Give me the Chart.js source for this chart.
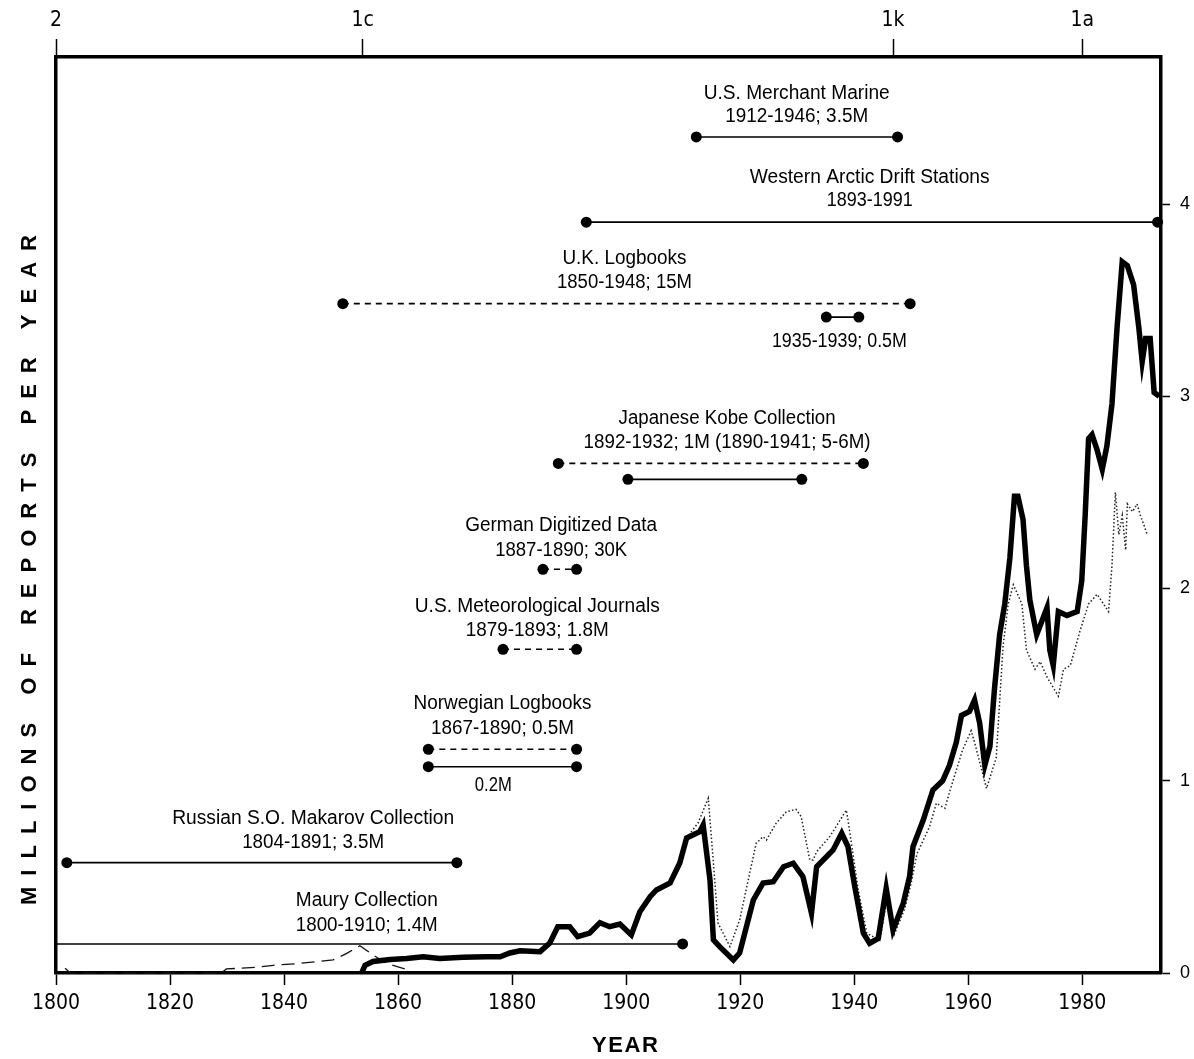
<!DOCTYPE html>
<html>
<head>
<meta charset="utf-8">
<script src="https://cdn.jsdelivr.net/npm/chart.js@4/dist/chart.umd.min.js"></script>
<style>
html,body{margin:0;padding:0;background:#fff;}
#wrap{width:1194px;height:1059px;position:relative;}
</style>
</head>
<body>
<div id="wrap"><canvas id="c"></canvas></div>
<script>
// ---------- DATA ----------
// Total reports per year (thick line), millions
const totalYears = [1853.6,1854.2,1855.6,1858.6,1861.5,1864.4,1867.3,1871.4,1875.5,1877.9,1879.6,1881.4,1884.9,1886.6,1888,1890.1,1891.5,1893.6,1895.4,1897.1,1898.9,1900.9,1902.4,1904.2,1905.3,1907.7,1909.4,1910.6,1912.9,1913.5,1914.7,1915.3,1916.4,1918.8,1919.9,1922.3,1924.0,1925.8,1927.6,1929.3,1931.0,1932.5,1933.4,1936.3,1937.8,1938.9,1940.1,1941.6,1942.7,1944.2,1945.6,1946.8,1948.6,1949.7,1950.3,1952.1,1953.8,1955.5,1956.7,1957.9,1958.8,1960.2,1961.1,1962,1962.9,1963.8,1964.6,1965.5,1966.4,1967.3,1968.1,1968.7,1969.6,1970.2,1970.8,1972,1973.8,1974.3,1974.9,1975.8,1977.3,1979.1,1979.9,1980.5,1981.1,1981.7,1982.6,1983.5,1984.3,1985.2,1986.1,1987,1987.9,1989,1989.9,1990.5,1991.1,1991.9,1992.6,1993.5];
const totalReports = [0,0.04,0.06,0.07,0.076,0.085,0.076,0.082,0.085,0.084,0.104,0.116,0.111,0.156,0.241,0.241,0.189,0.208,0.262,0.241,0.255,0.198,0.319,0.397,0.432,0.468,0.572,0.702,0.735,0.77,0.484,0.172,0.137,0.068,0.104,0.38,0.468,0.475,0.553,0.571,0.501,0.311,0.553,0.64,0.727,0.657,0.449,0.207,0.155,0.18,0.441,0.224,0.363,0.501,0.657,0.796,0.952,1.0,1.08,1.2,1.34,1.36,1.42,1.3,1.08,1.18,1.48,1.76,1.92,2.16,2.48,2.48,2.36,2.12,1.94,1.76,1.9,1.68,1.6,1.88,1.86,1.88,2.04,2.38,2.78,2.8,2.72,2.62,2.74,2.96,3.36,3.70,3.68,3.58,3.36,3.18,3.30,3.30,3.02,3.0];

// Second series (dotted)
const dottedYears = [1910.6,1912.6,1914.4,1915.3,1916.1,1918.2,1919.9,1922.8,1924,1924.6,1926.3,1928.1,1929.8,1930.7,1932.2,1932.8,1933.4,1935.7,1938.6,1938.9,1940.7,1942.2,1943.3,1944.5,1945.8,1947,1948.8,1950,1951,1953.2,1954.4,1955.9,1956.8,1959,1960.5,1961.1,1963.2,1964.9,1966.1,1967,1967.9,1969.4,1970.2,1971.7,1972.6,1973.8,1975.8,1976.7,1977.9,1979.6,1981.1,1982.6,1984.6,1985.2,1985.8,1986.4,1987,1987.6,1987.9,1988.8,1989.6,1990.2,1991.4];
const dottedReports = [0.702,0.78,0.909,0.572,0.26,0.137,0.276,0.675,0.709,0.692,0.779,0.839,0.851,0.813,0.588,0.588,0.631,0.709,0.847,0.796,0.432,0.207,0.189,0.17,0.40,0.2,0.33,0.47,0.62,0.761,0.883,0.857,0.95,1.16,1.26,1.2,0.96,1.12,1.70,1.92,2.02,1.92,1.68,1.58,1.62,1.54,1.44,1.58,1.6,1.78,1.92,1.97,1.88,2.12,2.5,2.28,2.38,2.2,2.44,2.40,2.44,2.38,2.28];

// Early thin dashed series (before 1862)
const earlyYears = [1801.6,1802.5,1829,1829.9,1835.2,1838.1,1842.8,1845.7,1848.6,1851,1853.3,1855.6,1858,1861.5];
const earlyReports = [0.025,0,0,0.021,0.03,0.04,0.05,0.059,0.068,0.102,0.142,0.094,0.05,0.019];

// Data collections shown as ranges
const rangeNames  = ["U.S. Merchant Marine","Western Arctic Drift Stations","U.K. Logbooks","U.K. 1935-1939","Japanese Kobe (1890-1941)","Japanese Kobe (1892-1932)","German Digitized Data","U.S. Meteorological Journals","Norwegian Logbooks 0.5M","Norwegian Logbooks 0.2M","Russian S.O. Makarov Collection","Maury Collection"];
const rangeStart  = [1912.3,1893.0,1850.3,1935.1,1888.1,1900.3,1885.4,1878.4,1865.3,1865.3,1801.9,1800.0];
const rangeEnd    = [1947.6,1993.2,1949.8,1940.8,1941.6,1930.8,1891.3,1891.3,1891.3,1891.3,1870.3,1909.9];
const rangeLevel  = [4.349,3.906,3.482,3.412,2.651,2.568,2.100,1.684,1.164,1.073,0.574,0.151];
const rangeDashed = [false,false,true,false,true,false,true,true,true,false,false,false];
const rangeStartDot = [true,true,true,true,true,true,true,true,true,true,true,false];

// Annotation texts
const noteLines = [
  ["U.S. Merchant Marine","1912-1946; 3.5M"],
  ["Western Arctic Drift Stations","1893-1991"],
  ["U.K. Logbooks","1850-1948; 15M"],
  ["1935-1939; 0.5M"],
  ["Japanese Kobe Collection","1892-1932; 1M (1890-1941; 5-6M)"],
  ["German Digitized Data","1887-1890; 30K"],
  ["U.S. Meteorological Journals","1879-1893; 1.8M"],
  ["Norwegian Logbooks","1867-1890; 0.5M"],
  ["0.2M"],
  ["Russian S.O. Makarov Collection","1804-1891; 3.5M"],
  ["Maury Collection","1800-1910; 1.4M"]
];

// Axis tick labels
const xTickStep = 20;
const yTickStep = 1;
const topTickYears  = [1800, 1853.8, 1946.8, 1980];
const topTickLabels = ["2", "1c", "1k", "1a"];
const yTitle = "MILLIONS OF REPORTS PER YEAR";
const xTitle = "YEAR";

// ---------- LAYOUT (positions in data units, widths in px) ----------
const noteLayout = [
  {x:1929.9, y:[4.577,4.453], w:[186,143]},
  {x:1942.7, y:[4.140,4.020], w:[240,86]},
  {x:1899.7, y:[3.719,3.594], w:[124,135]},
  {x:1937.4, y:[3.284],       w:[135]},
  {x:1917.7, y:[2.885,2.758], w:[217,287]},
  {x:1888.6, y:[2.327,2.200], w:[192,132]},
  {x:1884.4, y:[1.909,1.784], w:[245,143]},
  {x:1878.3, y:[1.403,1.273], w:[178,143]},
  {x:1876.7, y:[0.978],       w:[37]},
  {x:1845.1, y:[0.805,0.680], w:[282,142]},
  {x:1854.5, y:[0.376,0.246], w:[142,142]}
];

const FONT = "'Liberation Sans Narrow','DejaVu Sans Condensed','Liberation Sans',Arial,sans-serif";
const NOTEFONT = "'Liberation Sans',Arial,sans-serif";
const pts = (xs, ys) => xs.map((x, i) => ({x: x, y: ys[i]}));

const datasets = [];
datasets.push({label:"Total", data: pts(totalYears, totalReports), borderColor:"#000", borderWidth:5.5, pointRadius:0, tension:0, clip:false, borderJoinStyle:"miter"});
datasets.push({label:"Second", data: pts(dottedYears, dottedReports), borderColor:"#222", borderWidth:1.5, borderDash:[1.5,2.2], pointRadius:0, tension:0, clip:false});
datasets.push({label:"Early", data: pts(earlyYears, earlyReports), borderColor:"#111", borderWidth:1.3, borderDash:[13,7], pointRadius:0, tension:0, clip:false});
rangeNames.forEach((n, i) => {
  datasets.push({
    label: n,
    data: [{x: rangeStart[i], y: rangeLevel[i]}, {x: rangeEnd[i], y: rangeLevel[i]}],
    borderColor: "#000", borderWidth: 1.6,
    borderDash: rangeDashed[i] ? [6,5] : [],
    pointRadius: [rangeStartDot[i] ? 5.5 : 0, 5.5],
    pointBackgroundColor: "#000", pointBorderColor: "#000", pointBorderWidth: 0,
    pointStyle: "circle", tension: 0, clip: false
  });
});

const textPlugin = {
  id: "texts",
  afterDraw(chart) {
    const ctx = chart.ctx;
    const xs = chart.scales.x, ys = chart.scales.y;
    ctx.save();
    ctx.fillStyle = "#000";
    ctx.textAlign = "center";
    ctx.textBaseline = "middle";
    ctx.font = "20px " + NOTEFONT;
    noteLines.forEach((lines, i) => {
      const L = noteLayout[i];
      const cx = xs.getPixelForValue(L.x);
      lines.forEach((t, j) => {
        const cy = ys.getPixelForValue(L.y[j]);
        const mw = ctx.measureText(t).width;
        const sx = L.w[j] / mw;
        ctx.save();
        ctx.translate(cx, cy);
        ctx.scale(sx, 1);
        ctx.fillText(t, 0, 0);
        ctx.restore();
      });
    });
    // axis titles
    ctx.font = "bold 22px 'Liberation Sans',Arial,sans-serif";
    // Y title (rotated)
    const targetY = 670;
    let w0 = ctx.measureText(yTitle).width;
    const lsY = (targetY - w0) / (yTitle.length - 1);
    ctx.save();
    ctx.translate(30, 570);
    ctx.rotate(-Math.PI / 2);
    ctx.textAlign = "left";
    let pos = -targetY / 2;
    for (const ch of yTitle) {
      ctx.fillText(ch, pos, 0);
      pos += ctx.measureText(ch).width + lsY;
    }
    ctx.restore();
    // X title
    const targetX = 66;
    w0 = ctx.measureText(xTitle).width;
    const lsX = (targetX - w0) / (xTitle.length - 1);
    ctx.textAlign = "left";
    pos = 625 - targetX / 2;
    for (const ch of xTitle) {
      ctx.fillText(ch, pos, 1046);
      pos += ctx.measureText(ch).width + lsX;
    }
    ctx.restore();
  }
};

const axisLine = {display:true, color:"#000", width:3.5};

new Chart(document.getElementById("c"), {
  type: "line",
  data: {datasets},
  options: {
    responsive: true, maintainAspectRatio: false, animation: false,
    devicePixelRatio: 1,
    layout: {padding: 0},
    plugins: {legend:{display:false}, tooltip:{enabled:false}, title:{display:false}},
    elements: {line:{borderCapStyle:"butt"}},
    scales: {
      x: {
        type: "linear", position: "bottom", min: 1800, max: 1993.8,
        border: axisLine,
        grid: {display:true, drawOnChartArea:false, drawTicks:true, tickLength:12, tickWidth:1.5, tickColor:"#000", color:"#000"},
        ticks: {stepSize: xTickStep, includeBounds:false, color:"#000", padding:6, maxRotation:0,
                font:{family:FONT, size:21}, callback: v => String(v)},
        afterFit: s => { s.height = 86; }
      },
      x2: {
        type: "linear", position: "top", min: 1800, max: 1993.8,
        border: axisLine,
        grid: {display:true, drawOnChartArea:false, drawTicks:true, tickLength:18, tickWidth:1.5, tickColor:"#000", color:"#000"},
        afterBuildTicks: s => { s.ticks = topTickYears.map(v => ({value: v})); },
        ticks: {color:"#000", padding:6, maxRotation:0, autoSkip:false,
                font:{family:FONT, size:21}, callback: (v, i) => topTickLabels[i]},
        afterFit: s => { s.height = 57; }
      },
      y: {
        type: "linear", position: "right", min: 0, max: 4.765,
        border: axisLine,
        grid: {display:true, drawOnChartArea:false, drawTicks:true, tickLength:9, tickWidth:1.5, tickColor:"#000", color:"#000"},
        ticks: {stepSize: yTickStep, includeBounds:false, color:"#000", padding:10,
                font:{family:"'Liberation Sans',Arial,sans-serif", size:18}, callback: v => String(v)},
        afterFit: s => { s.width = 33; }
      },
      yL: {
        type: "linear", position: "left", min: 0, max: 4.765,
        border: axisLine,
        grid: {display:false},
        ticks: {display:false},
        afterFit: s => { s.width = 56; }
      }
    }
  },
  plugins: [textPlugin]
});
</script>
</body>
</html>
